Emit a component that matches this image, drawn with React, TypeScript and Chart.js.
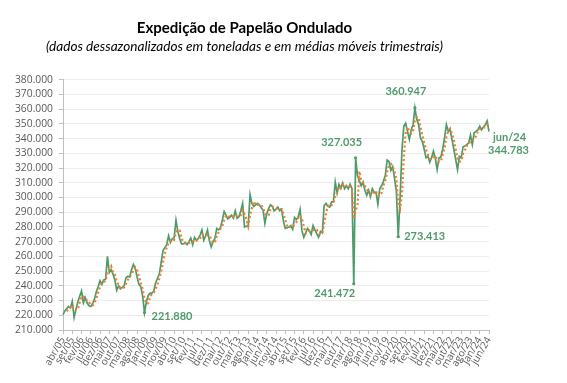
import React, { useEffect, useRef } from 'react';
import { Chart, registerables } from 'chart.js';

Chart.register(...registerables);

// ---- Dados ----
const MESES = ['jan', 'fev', 'mar', 'abr', 'mai', 'jun', 'jul', 'ago', 'set', 'out', 'nov', 'dez'];
const ANO_INICIAL = 2005;
const MES_INICIAL = 3; // abr

// expedição dessazonalizada (toneladas), abr/05 - dez/09
const serie2005a2009 = [
  220500, 223000, 224500, 226000, 225000, 229500, 218500, 224000, 229000,
  233000, 236500, 228500, 232000, 228500, 226500, 226000, 228000, 231000, 236000, 239500, 243500,
  241000, 244000, 244500, 260000, 249000, 251000, 248000, 244000, 237000, 240000, 238000, 239000,
  240000, 245500, 246500, 246000, 251000, 254500, 252000, 246000, 241000, 239500, 233000, 221880,
  229000, 233500, 235000, 235000, 236500, 242000, 245000, 248000, 256000, 264000, 266000, 268000,
];
// jan/10 - dez/14
const serie2010a2014 = [
  274000, 269500, 272000, 272500, 284500, 277000, 272000, 268500, 268500, 269500, 268000, 270000,
  272500, 268000, 273000, 271000, 272000, 274500, 278000, 271000, 274000, 278000, 271000, 266500,
  270000, 272000, 279000, 278000, 279500, 284500, 290500, 288000, 285500, 286500, 288000, 286000,
  291000, 286000, 287000, 291000, 296000, 280000, 280500, 281000, 302000, 296000, 294000, 295000,
  296000, 295000, 293000, 291500, 282500, 289000, 292500, 295000, 294000, 291000, 292000, 293500,
];
// jan/15 - dez/19
const serie2015a2019 = [
  291000, 292000, 284000, 279000, 279500, 280000, 281000, 278500, 286500, 285000, 287000, 292000,
  277500, 273000, 276000, 279000, 277500, 275000, 281000, 278000, 275500, 273000, 277000, 276000,
  294500, 296000, 294000, 293500, 297000, 297000, 310500, 303000, 309000, 306500, 310000, 306000,
  308000, 306000, 309000, 306000, 241472, 327035, 315000, 311500, 308000, 310500, 305000, 301500,
  305000, 300500, 306000, 303500, 303500, 295500, 306000, 308000, 311000, 315000, 325500, 324500,
];
// jan/20 - jun/24
const serie2020a2024 = [
  318500, 321000, 313000, 304000, 273413, 300000, 332000, 348500, 350500, 345000, 339500, 346000,
  349500, 360947, 353000, 349500, 340500, 338000, 333000, 327000, 328000, 324000, 327000, 331500,
  327000, 319000, 327000, 327500, 333000, 340500, 349500, 345000, 346000, 339500, 333000, 326000,
  319000, 328000, 327000, 334500, 335000, 336000, 337000, 342500, 336000, 344000, 345000, 346000,
  348500, 346000, 348000, 349500, 352000, 344783,
];

const expedicao = [...serie2005a2009, ...serie2010a2014, ...serie2015a2019, ...serie2020a2024];

const categorias = expedicao.map((_, i) => {
  const t = MES_INICIAL + i;
  const ano = ANO_INICIAL + Math.floor(t / 12);
  return `${MESES[t % 12]}/${String(ano % 100).padStart(2, '0')}`;
});

// média móvel trimestral (linha de tendência do gráfico)
const mediaMovel = expedicao.map((_, i) =>
  i < 2 ? null : (expedicao[i] + expedicao[i - 1] + expedicao[i - 2]) / 3
);

const Y_MIN = 210000;
const Y_MAX = 380000;
const Y_PASSO = 10000;

const TITULO = 'Expedição de Papelão Ondulado';
const SUBTITULO = '(dados dessazonalizados em toneladas e em médias móveis trimestrais)';

// pontos destacados: índice e texto
const destaques = [
  { idx: 44, texto: '221.880' },
  { idx: 157, texto: '241.472' },
  { idx: 158, texto: '327.035' },
  { idx: 181, texto: '273.413' },
  { idx: 190, texto: '360.947' },
  { idx: 230, texto: 'jun/24' },
  { idx: 230, texto: '344.783' },
];

// ---- Estilo ----
const VERDE = '#4E9B69';
const LARANJA = '#ED7D31';
const CINZA_TXT = '#595959';
const POS_ROTULO: Record<string, { dx: number; dy: number; align: CanvasTextAlign }> = {
  '221.880': { dx: 7, dy: 4, align: 'left' },
  '241.472': { dx: -19, dy: 10, align: 'center' },
  '327.035': { dx: -14, dy: -15, align: 'center' },
  '273.413': { dx: 6, dy: 0, align: 'left' },
  '360.947': { dx: -9, dy: -16, align: 'center' },
  'jun/24': { dx: 4, dy: 6, align: 'left' },
  '344.783': { dx: -1, dy: 19, align: 'left' },
};

const fmtMilhar = (v: number) => {
  const n = Math.round(v);
  const mil = Math.floor(n / 1000);
  const resto = n % 1000;
  return `${mil}.${String(resto).padStart(3, '0')}`;
};

const pluginRotulos = {
  id: 'rotulos',
  afterDatasetsDraw(chart: any) {
    const { ctx } = chart;
    const xs = chart.scales.x;
    const ys = chart.scales.y;
    ctx.save();
    ctx.font = 'bold 11px Lato';
    ctx.fillStyle = VERDE;
    ctx.textBaseline = 'middle';
    for (const d of destaques) {
      const p = POS_ROTULO[d.texto];
      const x = xs.getPixelForValue(d.idx);
      const y = ys.getPixelForValue(expedicao[d.idx]);
      ctx.textAlign = p.align;
      ctx.fillText(d.texto, x + p.dx, y + p.dy);
    }
    ctx.restore();
  },
};

const idxDestaque = new Set(destaques.map((d) => d.idx));

export default function App() {
  const ref = useRef<HTMLCanvasElement | null>(null);

  useEffect(() => {
    if (!ref.current) return;
    const chart = new Chart(ref.current, {
      type: 'line',
      data: {
        labels: categorias,
        datasets: [
          {
            label: 'Média móvel trimestral',
            data: mediaMovel,
            borderColor: LARANJA,
            borderWidth: 2.2,
            borderDash: [2, 2.5],
            pointRadius: 0,
            fill: false,
            tension: 0,
            spanGaps: false,
          },
          {
            label: 'Dessazonalizado',
            data: expedicao,
            borderColor: VERDE,
            backgroundColor: VERDE,
            borderWidth: 1.7,
            pointRadius: (c: any) => (idxDestaque.has(c.dataIndex) && c.dataIndex !== 230 ? 1.6 : 0),
            pointBorderWidth: 0,
            fill: false,
            tension: 0,
          },
        ],
      },
      options: {
        responsive: false,
        animation: false,
        events: [],
        layout: { padding: { top: 19, right: 78, bottom: 0, left: 0 } },
        plugins: {
          legend: { display: false },
          tooltip: { enabled: false },
          title: {
            display: true,
            text: TITULO,
            color: '#000000',
            font: { family: 'Lato', size: 15, weight: 'bold' },
            padding: { top: 0, bottom: 1.5 },
          },
          subtitle: {
            display: true,
            text: SUBTITULO,
            color: '#000000',
            font: { family: 'Lato', size: 13.6, style: 'italic' },
            padding: { top: 0, bottom: 25 },
          },
        },
        scales: {
          x: {
            type: 'category',
            offset: false,
            grid: { drawOnChartArea: false, drawTicks: true, tickLength: 4, color: '#BFBFBF' },
            border: { color: '#BFBFBF' },
            ticks: {
              autoSkip: false,
              minRotation: 60,
              maxRotation: 60,
              padding: 1,
              color: CINZA_TXT,
              font: { family: 'Open Sans', size: 10 },
              callback: (_v: any, i: number) => (i % 5 === 0 ? categorias[i] : null),
            },
            afterFit: (s: any) => {
              s.height = 53;
            },
          },
          y: {
            min: Y_MIN,
            max: Y_MAX,
            grid: { color: '#ECECEC', tickLength: 4, tickColor: '#BFBFBF' },
            border: { color: '#BFBFBF' },
            ticks: {
              stepSize: Y_PASSO,
              autoSkip: false,
              padding: 6,
              color: CINZA_TXT,
              font: { family: 'Open Sans', size: 10.3 },
              callback: (v: any) => fmtMilhar(Number(v)),
            },
            afterFit: (s: any) => {
              s.width = 63;
            },
          },
        },
      },
      plugins: [pluginRotulos],
    } as any);
    return () => chart.destroy();
  }, []);

  return (
    <div style={{ position: 'absolute', left: 0, top: 0, width: 567, height: 383, background: '#fff' }}>
      <canvas ref={ref} width={567} height={383} style={{ width: 567, height: 383 }} />
    </div>
  );
}
